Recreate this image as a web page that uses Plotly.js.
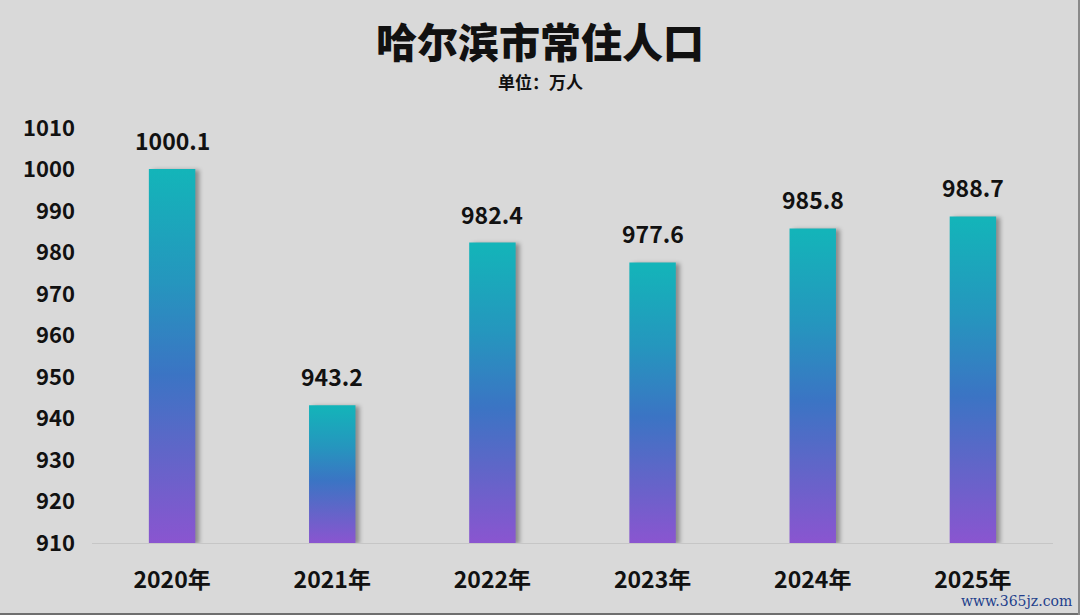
<!DOCTYPE html>
<html>
<head>
<meta charset="utf-8">
<script src="https://cdn.plot.ly/plotly-3.0.1.min.js"></script>
<style>
html,body{margin:0;padding:0;background:#d9d9d9;}
#chart{width:1080px;height:615px;}
</style>
</head>
<body>
<div id="chart"></div>
<script>
const categories = ["2020年", "2021年", "2022年", "2023年", "2024年", "2025年"];
const population = [1000.1, 943.2, 982.4, 977.6, 985.8, 988.7];
const yTickValues = [910, 920, 930, 940, 950, 960, 970, 980, 990, 1000, 1010];

const FONT = '"Noto Sans CJK SC", "Noto Sans", sans-serif';

const trace = {
  type: 'bar',
  x: categories,
  y: population.map(v => v - 910),
  base: 910,
  marker: {color: '#3b74c4', line: {width: 0}},
  hoverinfo: 'skip',
  cliponaxis: false
};

const annotations = categories.map((c, i) => ({
  x: c, y: population[i], xref: 'x', yref: 'y',
  text: population[i].toFixed(1),
  showarrow: false, yanchor: 'middle', yshift: 29,
  font: {family: FONT, size: 23, color: '#111', weight: 700}
}));

annotations.push({
  xref: 'paper', yref: 'paper', x: (540 - 92) / 961, y: (543 - 81) / 415,
  xanchor: 'center', yanchor: 'middle',
  text: '单位：万人', showarrow: false,
  font: {family: FONT, size: 17, color: '#111', weight: 700}
});

annotations.push({
  xref: 'paper', yref: 'paper', x: (1074 - 92) / 961, y: (543 - 601) / 415,
  xanchor: 'right', yanchor: 'middle',
  text: 'www.365jz.com', showarrow: false,
  font: {family: '"DejaVu Serif", "Liberation Serif", serif', size: 14, color: '#233f8c'}
});

const layout = {
  width: 1080, height: 615,
  paper_bgcolor: '#d9d9d9', plot_bgcolor: '#d9d9d9',
  margin: {l: 92, r: 27, t: 128, b: 72},
  showlegend: false,
  bargap: 0.71,
  title: {
    text: '哈尔滨市常住人口',
    x: 0.5, xref: 'container', xanchor: 'center',
    y: 1 - 44 / 615, yref: 'container', yanchor: 'middle',
    font: {family: FONT, size: 41, color: '#111', weight: 900}
  },
  xaxis: {
    type: 'category',
    showgrid: false, zeroline: false,
    showline: true, linecolor: '#c6c6c6', linewidth: 1,
    ticks: '', ticklabelstandoff: 16,
    tickfont: {family: FONT, size: 23, color: '#111', weight: 700}
  },
  yaxis: {
    range: [910, 1010],
    tickvals: yTickValues,
    ticktext: yTickValues.map(String),
    showgrid: false, zeroline: false, showline: false,
    ticks: '', ticklabelstandoff: 16,
    tickfont: {family: FONT, size: 22, color: '#111', weight: 700}
  },
  annotations: annotations,
  shapes: [
    {type: 'line', xref: 'paper', yref: 'paper',
     x0: -92 / 961, x1: (1080 - 92) / 961, y0: (543 - 614) / 415, y1: (543 - 614) / 415,
     line: {color: '#6f6f6f', width: 2}},
    {type: 'line', xref: 'paper', yref: 'paper',
     x0: (1079 - 92) / 961, x1: (1079 - 92) / 961, y0: (543 - 615) / 415, y1: 543 / 415,
     line: {color: '#8a8a8a', width: 2}}
  ]
};

Plotly.newPlot('chart', [trace], layout, {displayModeBar: false, staticPlot: true}).then(function (gd) {
  const svg = gd.querySelector('svg.main-svg');
  const ns = 'http://www.w3.org/2000/svg';
  let defs = svg.querySelector('defs');
  if (!defs) { defs = document.createElementNS(ns, 'defs'); svg.insertBefore(defs, svg.firstChild); }
  const grad = document.createElementNS(ns, 'linearGradient');
  grad.setAttribute('id', 'barGrad');
  grad.setAttribute('x1', '0'); grad.setAttribute('y1', '1');
  grad.setAttribute('x2', '0'); grad.setAttribute('y2', '0');
  [['0', '#8a55d0'], ['0.25', '#5f66c8'], ['0.45', '#3b74c4'], ['0.7', '#2596be'], ['1', '#13b5b9']].forEach(function (s) {
    const st = document.createElementNS(ns, 'stop');
    st.setAttribute('offset', s[0]);
    st.setAttribute('stop-color', s[1]);
    grad.appendChild(st);
  });
  defs.appendChild(grad);
  gd.querySelectorAll('.trace.bars .point path').forEach(function (p) {
    p.style.fill = 'url(#barGrad)';
    p.style.filter = 'drop-shadow(4px 1px 2px rgba(0,0,0,0.35))';
  });
});
</script>
</body>
</html>
